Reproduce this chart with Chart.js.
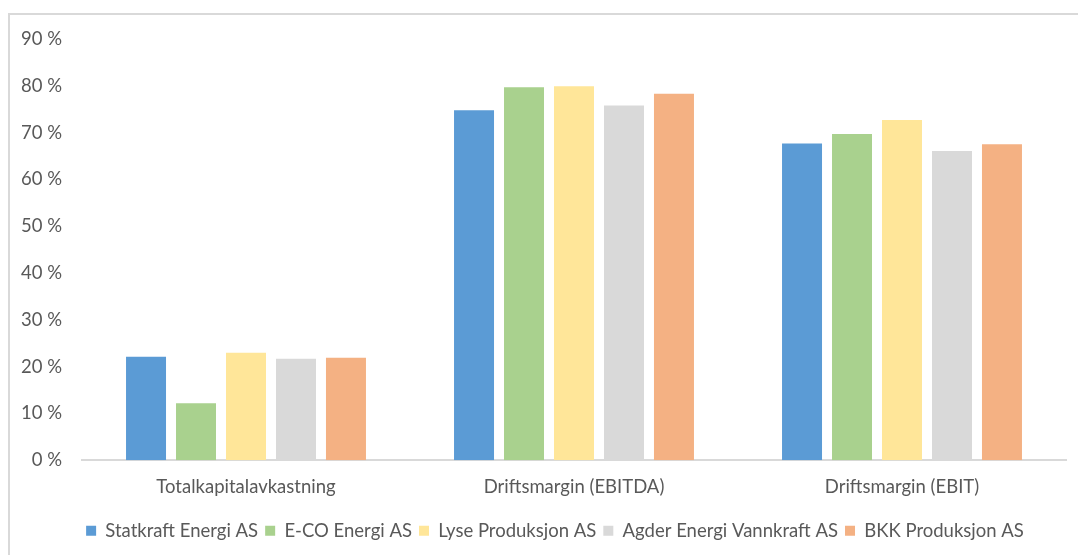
<!DOCTYPE html>
<html>
<head>
<meta charset="utf-8">
<script src="https://cdn.jsdelivr.net/npm/chart.js@4/dist/chart.umd.min.js"></script>
<style>
  body { margin: 0; background: #fff; }
  #frame {
    position: absolute; left: 8px; top: 13px; width: 1100px; height: 600px;
    border: 2px solid #d9d9d9; box-sizing: border-box;
  }
  #wrap { position: absolute; left: 0; top: 0; width: 1078px; height: 555px; }
</style>
</head>
<body>
<div id="frame"></div>
<div id="wrap"><canvas id="myChart"></canvas></div>
<script>
// categories and series (percent)
const categories = ['Totalkapitalavkastning', 'Driftsmargin (EBITDA)', 'Driftsmargin (EBIT)'];
const statkraft = [22.1, 74.8, 67.7];
const eco = [12.2, 79.7, 69.7];
const lyse = [23.0, 79.9, 72.7];
const agder = [21.7, 75.8, 66.1];
const bkk = [21.9, 78.3, 67.5];
const seriesNames = ['Statkraft Energi AS', 'E-CO Energi AS', 'Lyse Produksjon AS', 'Agder Energi Vannkraft AS', 'BKK Produksjon AS'];
const seriesColors = ['#5b9bd5', '#a9d18e', '#ffe699', '#d9d9d9', '#f4b183'];

const allSeries = [statkraft, eco, lyse, agder, bkk];
const datasets = allSeries.map((values, i) => ({
  label: seriesNames[i],
  data: values,
  backgroundColor: seriesColors[i],
  borderWidth: 0,
  barPercentage: 0.8,
  categoryPercentage: 0.762
}));

// nudge the legend a bit right so it sits like the original
const legendShift = {
  id: 'legendShift',
  afterLayout(chart) {
    const lg = chart.legend;
    if (lg) { lg.left += 22; lg.right += 22; }
  }
};

const font = { family: 'Lato, "Open Sans", sans-serif', size: 18.5 };
const ctx = document.getElementById('myChart').getContext('2d');
new Chart(ctx, {
  type: 'bar',
  data: { labels: categories, datasets: datasets },
  plugins: [legendShift],
  options: {
    responsive: true,
    maintainAspectRatio: false,
    animation: false,
    layout: { padding: { top: 39, right: 12, bottom: 5, left: 0 } },
    plugins: {
      tooltip: { enabled: false },
      legend: {
        position: 'bottom',
        labels: { boxWidth: 10, boxHeight: 10, color: '#595959', font: font, padding: 7 }
      }
    },
    scales: {
      x: {
        grid: { display: false, drawTicks: false },
        border: { display: true, color: '#d9d9d9', width: 2 },
        ticks: { color: '#595959', font: font, padding: 16 }
      },
      y: {
        min: 0,
        max: 90,
        afterFit: scale => { scale.width = 82; },
        grid: { display: false, drawTicks: false },
        border: { display: false },
        ticks: { stepSize: 10, color: '#595959', font: font, padding: 20, callback: v => v + ' %' }
      }
    }
  }
});
</script>
</body>
</html>
